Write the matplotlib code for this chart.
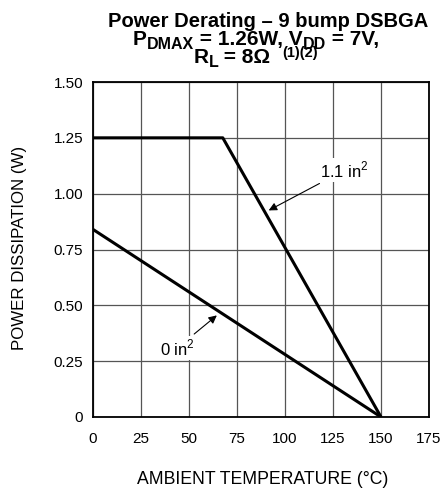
import matplotlib.pyplot as plt
import matplotlib as mpl

mpl.rcParams['font.family'] = ['Liberation Sans', 'DejaVu Sans']
mpl.rcParams['mathtext.fontset'] = 'custom'
mpl.rcParams['mathtext.rm'] = 'Liberation Sans'
mpl.rcParams['mathtext.bf'] = 'Liberation Sans:bold'

# derating curves
t_11 = [0, 67.6, 150]
p_11 = [1.25, 1.25, 0]
t_0 = [0, 150]
p_0 = [0.84, 0]

xticks = [0, 25, 50, 75, 100, 125, 150, 175]
yticks = [0, 0.25, 0.5, 0.75, 1.0, 1.25, 1.5]
ylabels = ['0', '0.25', '0.50', '0.75', '1.00', '1.25', '1.50']

W, H = 448, 493
fig = plt.figure(figsize=(W / 100, H / 100), dpi=100)
ax = fig.add_axes([93 / W, 1 - 417 / H, 336 / W, 335 / H])

ax.plot(t_11, p_11, color='black', lw=2.2, solid_capstyle='butt')
ax.plot(t_0, p_0, color='black', lw=2.2, solid_capstyle='butt')

ax.set_xlim(0, 175)
ax.set_ylim(0, 1.5)
ax.set_xticks(xticks)
ax.set_yticks(yticks)
ax.set_yticklabels(ylabels)
ax.tick_params(length=0, labelsize=11)
ax.tick_params(axis='x', pad=11)
ax.tick_params(axis='y', pad=7)
ax.grid(True, color='#555555', lw=0.9)
for s in ax.spines.values():
    s.set_linewidth(1.3)

fig.text(263 / W, 1 - 480 / H, 'AMBIENT TEMPERATURE (°C)', fontsize=12.7,
         ha='center', va='center')
fig.text(20 / W, 1 - 248 / H, 'POWER DISSIPATION (W)', fontsize=12.2,
         ha='center', va='center', rotation=90)

ax.annotate('1.1 in$^2$', xy=(91.5, 0.925), xytext=(131, 1.105), fontsize=12,
            ha='center', va='center',
            bbox=dict(boxstyle='square,pad=0.1', fc='white', ec='none'),
            arrowprops=dict(arrowstyle='-|>', color='black', lw=0.8,
                            mutation_scale=12, shrinkA=2, shrinkB=0))
ax.annotate('0 in$^2$', xy=(64.5, 0.455), xytext=(44, 0.31), fontsize=12,
            ha='center', va='center',
            bbox=dict(boxstyle='square,pad=0.1', fc='white', ec='none'),
            arrowprops=dict(arrowstyle='-|>', color='black', lw=0.8,
                            mutation_scale=12, shrinkA=2, shrinkB=0))

# title, built piece by piece so the subscripts can be large
renderer = fig.canvas.get_renderer()


def title_line(pieces, cx, cy):
    # pieces: (text, fontsize, drop in px)
    texts = []
    total = 0
    for txt, size, drop in pieces:
        t = fig.text(0, cy - drop / H, txt, fontsize=size, fontweight='bold',
                     ha='left', va='baseline')
        w = t.get_window_extent(renderer).width
        texts.append((t, w))
        total += w
    x = cx * W - total / 2
    for t, w in texts:
        t.set_x(x / W)
        x += w


title_line([('Power Derating – 9 bump DSBGA', 14.5, 0)], 268 / W, 1 - 27 / H)
title_line([('P', 15, 0), ('DMAX', 11.5, 4), (' = 1.26W, V', 15, 0),
            ('DD', 11.5, 4), (' = 7V,', 15, 0)], 256 / W, 1 - 45 / H)
title_line([('R', 15, 0), ('L', 11.5, 4), (' = 8Ω', 15, 0)], 232 / W, 1 - 63 / H)
fig.text(300 / W, 1 - 53 / H, '(1)(2)', fontsize=10.5, fontweight='bold',
         ha='center', va='center')

fig.savefig('out.png', dpi=100)
